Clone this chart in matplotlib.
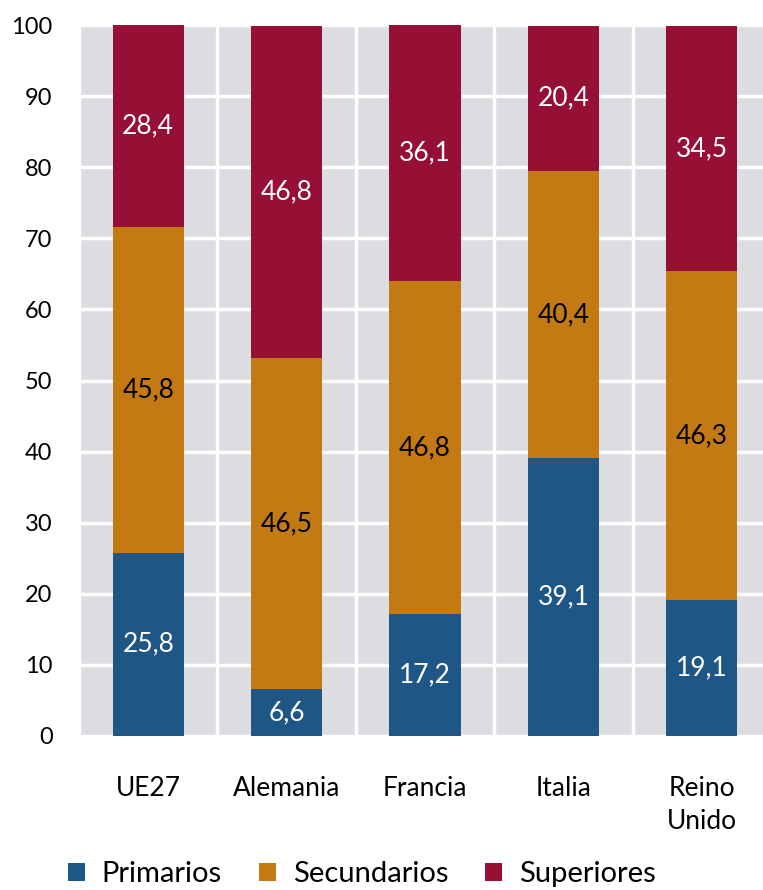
import matplotlib
matplotlib.use("Agg")
import matplotlib.pyplot as plt
import numpy as np

categories = ["UE27", "Alemania", "Francia", "Italia", "Reino\nUnido"]
primarios = [25.8, 6.6, 17.2, 39.1, 19.1]
secundarios = [45.8, 46.5, 46.8, 40.4, 46.3]
superiores = [28.4, 46.8, 36.1, 20.4, 34.5]
series_names = ["Primarios", "Secundarios", "Superiores"]
yticks = list(range(0, 101, 10))

colors = ["#1E5786", "#C37A12", "#961036"]
label_colors = ["white", "black", "white"]

plt.rcParams['font.family'] = ['Lato', 'DejaVu Sans']

fig = plt.figure(figsize=(7.63, 8.90), dpi=100)
ax = fig.add_axes([79/763, 1-736/890, (771-79)/763, (736-25)/890])
ax.set_facecolor("#DCDDE1")

x = np.arange(len(categories))
bottom = np.zeros(len(categories))
handles = []
for vals, col, lc, name in zip([primarios, secundarios, superiores], colors, label_colors, series_names):
    vals = np.array(vals)
    b = ax.bar(x, vals, width=0.515, bottom=bottom, color=col, label=name, zorder=3)
    handles.append(b)
    for xi, v, bt in zip(x, vals, bottom):
        ax.text(xi, bt + v/2, f"{v:.1f}".replace(".", ","), ha="center", va="center",
                color=lc, fontsize=19, zorder=4)
    bottom += vals

ax.set_xlim(-0.5, len(categories) - 0.5)
ax.set_ylim(0, 100)
ax.set_yticks(yticks)
ax.set_yticklabels([str(t) for t in yticks], fontsize=17)
ax.set_xticks(x)
ax.set_xticklabels(categories, fontsize=19, linespacing=1.42, va="top")
ax.set_xticks(np.arange(len(categories) + 1) - 0.5, minor=True)
ax.tick_params(axis="both", which="both", length=0)
ax.tick_params(axis="y", pad=19)
ax.tick_params(axis="x", pad=28.5)
ax.grid(axis="y", which="major", color="white", linewidth=2.5, zorder=1)
ax.grid(axis="x", which="minor", color="white", linewidth=2.5, zorder=1)
ax.grid(axis="x", which="major", visible=False)
ax.set_axisbelow(True)
for s in ax.spines.values():
    s.set_visible(False)

fig.legend(handles=handles, labels=series_names, loc="center", bbox_to_anchor=(0.474, 1 - 874/890),
           ncol=3, frameon=False, fontsize=21, handlelength=0.58, handleheight=0.58,
           handletextpad=0.58, columnspacing=1.27, borderaxespad=0)

fig.savefig("out.png", dpi=100)
